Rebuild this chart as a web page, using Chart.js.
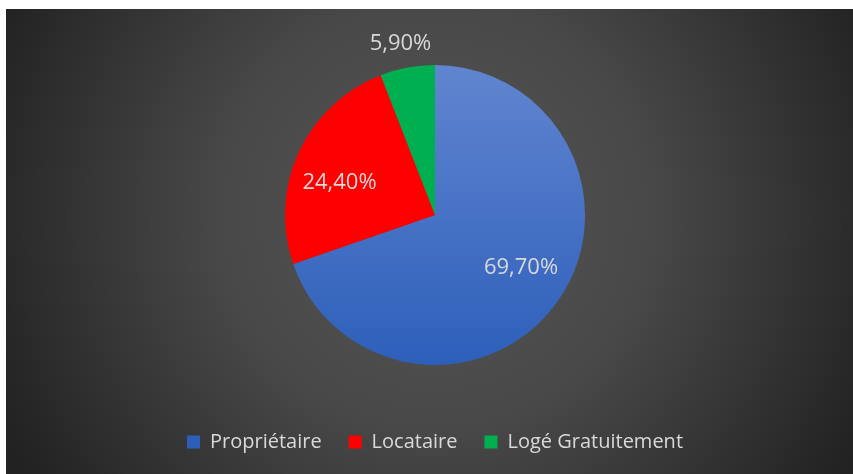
<!DOCTYPE html>
<html>
<head>
<meta charset="utf-8">
<script src="https://cdn.jsdelivr.net/npm/chart.js@4"></script>
<style>
  html, body { margin: 0; padding: 0; background: #ffffff; }
  #wrap { position: absolute; left: 6px; top: 9px; width: 847px; height: 465px; }
</style>
</head>
<body>
<div id="wrap"><canvas id="chart"></canvas></div>
<script>
const categories = ["Propriétaire", "Locataire", "Logé Gratuitement"];
const shares = [69.7, 24.4, 5.9];
const valueLabels = ["69,70%", "24,40%", "5,90%"];
const sliceColors = ["#4472c4", "#ff0000", "#00b050"];

const TEXT_COLOR = "#d9d9d9";
const FONT = "'Open Sans', 'Noto Sans', sans-serif";
const PIE_RADIUS = 150;

// label placement (fraction of radius, angle shift in rad) - mimics Excel best fit
const labelPlacement = [
    { r: 0.673, da: -0.068 },
    { r: 0.672, da: -0.107 },
    { r: 1.163, da: -0.014 },
];

function sliceFill(context) {
    const chart = context.chart;
    const area = chart.chartArea;
    if (context.dataIndex !== 0 || !area) {
        return sliceColors[context.dataIndex];
    }
    // Excel-like vertical gradient on the big slice
    const cy = (area.top + area.bottom) / 2;
    const g = chart.ctx.createLinearGradient(0, cy - PIE_RADIUS, 0, cy + PIE_RADIUS);
    g.addColorStop(0, "#6185d0");
    g.addColorStop(1, "#2d5fba");
    return g;
}

const backgroundPlugin = {
    id: "darkBackground",
    beforeDraw(chart) {
        const ctx = chart.ctx;
        const area = chart.chartArea;
        const cx = (area.left + area.right) / 2;
        const cy = (area.top + area.bottom) / 2;
        const g = ctx.createRadialGradient(cx, cy, 0, cx, cy, 480);
        g.addColorStop(0, "#565656");
        g.addColorStop(0.45, "#484848");
        g.addColorStop(1, "#222222");
        ctx.save();
        ctx.fillStyle = g;
        ctx.fillRect(0, 0, chart.width, chart.height);
        ctx.restore();
    },
};

const valueLabelPlugin = {
    id: "valueLabels",
    afterDatasetsDraw(chart) {
        const ctx = chart.ctx;
        const meta = chart.getDatasetMeta(0);
        ctx.save();
        ctx.font = "22px " + FONT;
        ctx.fillStyle = TEXT_COLOR;
        ctx.textAlign = "center";
        ctx.textBaseline = "middle";
        meta.data.forEach((arc, i) => {
            const p = arc.getProps(["x", "y", "startAngle", "endAngle", "outerRadius"], true);
            const mid = (p.startAngle + p.endAngle) / 2 + labelPlacement[i].da;
            const d = p.outerRadius * labelPlacement[i].r;
            ctx.fillText(valueLabels[i], p.x + Math.cos(mid) * d, p.y + Math.sin(mid) * d);
        });
        ctx.restore();
    },
};

new Chart(document.getElementById("chart"), {
    type: "pie",
    data: {
        labels: categories,
        datasets: [
            {
                data: shares,
                backgroundColor: sliceFill,
                borderWidth: 0,
                radius: PIE_RADIUS,
            },
        ],
    },
    options: {
        responsive: true,
        maintainAspectRatio: false,
        animation: false,
        layout: {
            padding: { top: 16, left: 11, right: 0, bottom: 12 },
        },
        plugins: {
            legend: {
                position: "bottom",
                labels: {
                    color: TEXT_COLOR,
                    boxWidth: 13,
                    boxHeight: 13,
                    padding: 27,
                    font: { family: FONT, size: 20 },
                },
            },
            tooltip: { enabled: false },
        },
    },
    plugins: [backgroundPlugin, valueLabelPlugin],
});
</script>
</body>
</html>
